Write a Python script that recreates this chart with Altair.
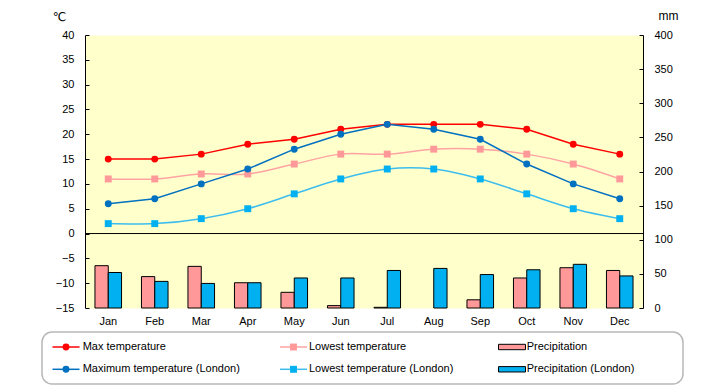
import altair as alt
import pandas as pd

# ---------------- data ----------------
months = ["Jan", "Feb", "Mar", "Apr", "May", "Jun", "Jul", "Aug", "Sep", "Oct", "Nov", "Dec"]
max_temp = [15, 15, 16, 18, 19, 21, 22, 22, 22, 21, 18, 16]
low_temp = [11, 11, 12, 12, 14, 16, 16, 17, 17, 16, 14, 11]
london_max = [6, 7, 10, 13, 17, 20, 22, 21, 19, 14, 10, 7]
london_low = [2, 2, 3, 5, 8, 11, 13, 13, 11, 8, 5, 3]
precip = [62, 46, 61, 37, 23, 3.5, 1, 0, 12, 44, 59, 55]
london_precip = [52, 39, 36, 37, 44, 44, 55, 58, 49, 56, 64, 47]

SERIES = ["Max temperature", "Lowest temperature", "Precipitation",
          "Maximum temperature (London)", "Lowest temperature (London)", "Precipitation (London)"]

# ---------------- styles ----------------
FONT = "Liberation Sans, DejaVu Sans, sans-serif"
fill_scale = alt.Scale(domain=SERIES,
                       range=["#FF0000", "#FF9999", "#FF9999", "#0070C0", "#00B0F0", "#00B0F0"])
stroke_scale = alt.Scale(domain=SERIES,
                         range=["#FF0000", "#FFA3A3", "#000000", "#0070C0", "#3CBDEE", "#000000"])
shape_scale = alt.Scale(domain=SERIES,
                        range=["circle", "square", "square", "circle", "square", "square"])

temp_series = [(SERIES[0], max_temp), (SERIES[1], low_temp),
               (SERIES[3], london_max), (SERIES[4], london_low)]
temp_df = pd.DataFrame([{"month": m, "series": n, "value": v}
                        for n, vals in temp_series for m, v in zip(months, vals)])
precip_df = pd.DataFrame([{"month": m, "series": n, "value": v}
                          for n, vals in [(SERIES[2], precip), (SERIES[5], london_precip)]
                          for m, v in zip(months, vals)])

x_enc = alt.X("month:N", sort=months,
              scale=alt.Scale(domain=months, paddingInner=0, paddingOuter=0),
              axis=alt.Axis(title=None, labelAngle=0, ticks=False, domain=False,
                            labelPadding=7, labelFontSize=11, labelColor="black", labelFont=FONT))

y_temp = alt.Y("value:Q",
               scale=alt.Scale(domain=[-15, 40], nice=False, zero=False),
               axis=alt.Axis(orient="left", values=list(range(-15, 41, 5)), grid=False,
                             title="℃", titleAngle=0, titleX=-26, titleY=-19,
                             titleAlign="center", titleBaseline="middle",
                             titleFontSize=12, titleFontWeight="normal", titleFont=FONT,
                             titleColor="black",
                             domainColor="black", tickColor="black", tickSize={"expr": "-4"},
                             labelPadding=15, labelFontSize=11, labelColor="black", labelFont=FONT))

y_prec = alt.Y("value:Q",
               scale=alt.Scale(domain=[0, 400], nice=False),
               axis=alt.Axis(orient="right", values=list(range(0, 401, 50)), grid=False,
                             title="mm", titleAngle=0, titleX=25, titleY=-20,
                             titleAlign="center", titleBaseline="middle",
                             titleFontSize=12, titleFontWeight="normal", titleFont=FONT,
                             titleColor="black",
                             domainColor="black", tickColor="black", tickSize={"expr": "-4"},
                             labelPadding=15, labelFontSize=11, labelColor="black", labelFont=FONT))

# ---------------- main plot ----------------
bars = alt.Chart(precip_df).transform_filter("datum.value > 0").mark_bar(
    stroke="black", strokeWidth=1).encode(
    x=x_enc,
    xOffset=alt.XOffset("series:N", sort=[SERIES[2], SERIES[5]],
                        scale=alt.Scale(domain=[SERIES[2], SERIES[5]], paddingInner=0, paddingOuter=0.75)),
    y=y_prec,
    fill=alt.Fill("series:N", scale=fill_scale, legend=None),
)

zero_rule = alt.Chart(pd.DataFrame({"value": [0]})).mark_rule(color="black", strokeWidth=1).encode(
    y=y_temp)

tbase = alt.Chart(temp_df)
lines_straight = tbase.transform_filter(
    alt.FieldOneOfPredicate(field="series", oneOf=[SERIES[0], SERIES[3]])
).mark_line(strokeWidth=1.5).encode(
    x=x_enc, y=y_temp, stroke=alt.Stroke("series:N", scale=stroke_scale, legend=None))
lines_smooth = tbase.transform_filter(
    alt.FieldOneOfPredicate(field="series", oneOf=[SERIES[1], SERIES[4]])
).mark_line(strokeWidth=1.5, interpolate="catmull-rom").encode(
    x=x_enc, y=y_temp, stroke=alt.Stroke("series:N", scale=stroke_scale, legend=None))
points = tbase.mark_point(filled=True, size=48, opacity=1, strokeWidth=0).encode(
    x=x_enc, y=y_temp,
    fill=alt.Fill("series:N", scale=fill_scale, legend=None),
    shape=alt.Shape("series:N", scale=shape_scale, legend=None))

temp_layer = alt.layer(zero_rule, lines_smooth, lines_straight, points)
main = alt.layer(bars, temp_layer).resolve_scale(y="independent")

# ---------------- legend (drawn as its own layer) ----------------
col_sym = [24, 251.5, 470]
col_txt = [40.7, 267, 484.7]
row_y = [15, 37.3]
leg_order = [SERIES[0], SERIES[1], SERIES[2], SERIES[3], SERIES[4], SERIES[5]]
leg_df = pd.DataFrame([{"series": s, "sx": col_sym[i % 3], "tx": col_txt[i % 3],
                        "x0": col_sym[i % 3] - 13.5, "x1": col_sym[i % 3] + 13.5,
                        "sy": row_y[i // 3]} for i, s in enumerate(leg_order)])
lx = alt.Scale(domain=[0, 641], range=[-43, 598], nice=False, zero=False)
ly = alt.Scale(domain=[0, 52], range=[297, 349], nice=False, zero=False)

box = alt.Chart(pd.DataFrame({"bx0": [0], "bx1": [641], "by0": [0], "by1": [52]})).mark_rect(
    fill="white", stroke="#B8B8B8", strokeWidth=1.5, cornerRadius=10).encode(
    x=alt.X("bx0:Q", scale=lx, axis=None), x2="bx1:Q",
    y=alt.Y("by0:Q", scale=ly, axis=None), y2="by1:Q")

line_series = [SERIES[0], SERIES[1], SERIES[3], SERIES[4]]
leg_base = alt.Chart(leg_df)
leg_lines = leg_base.transform_filter(
    alt.FieldOneOfPredicate(field="series", oneOf=line_series)).mark_rule(strokeWidth=1.5).encode(
    x=alt.X("x0:Q", scale=lx, axis=None), x2="x1:Q",
    y=alt.Y("sy:Q", scale=ly, axis=None),
    stroke=alt.Stroke("series:N", scale=stroke_scale, legend=None))
leg_marks = leg_base.transform_filter(
    alt.FieldOneOfPredicate(field="series", oneOf=line_series)).mark_point(
    filled=True, size=48, opacity=1, strokeWidth=0).encode(
    x=alt.X("sx:Q", scale=lx, axis=None), y=alt.Y("sy:Q", scale=ly, axis=None),
    fill=alt.Fill("series:N", scale=fill_scale, legend=None),
    shape=alt.Shape("series:N", scale=shape_scale, legend=None))
leg_bars = leg_base.transform_filter(
    alt.FieldOneOfPredicate(field="series", oneOf=[SERIES[2], SERIES[5]])).mark_point(
    shape="M-1,-0.2H1V0.2H-1Z", size=729, filled=True, opacity=1,
    stroke="black", strokeWidth=1).encode(
    x=alt.X("sx:Q", scale=lx, axis=None), y=alt.Y("sy:Q", scale=ly, axis=None),
    fill=alt.Fill("series:N", scale=fill_scale, legend=None))
leg_text = leg_base.mark_text(align="left", baseline="middle", fontSize=11, font=FONT,
                              color="black").encode(
    x=alt.X("tx:Q", scale=lx, axis=None), y=alt.Y("sy:Q", scale=ly, axis=None),
    text="series:N")

legend = alt.layer(box, leg_lines, leg_marks, leg_bars, leg_text)

chart = alt.layer(main, legend).resolve_scale(x="independent", y="independent").properties(
    width=558, height=273,
    padding={"left": 33, "top": 1, "right": 5, "bottom": 0},
).configure_view(fill="#FFFFCC", stroke="transparent")

chart.save("out.html", embed_options={"renderer": "svg", "actions": False})
